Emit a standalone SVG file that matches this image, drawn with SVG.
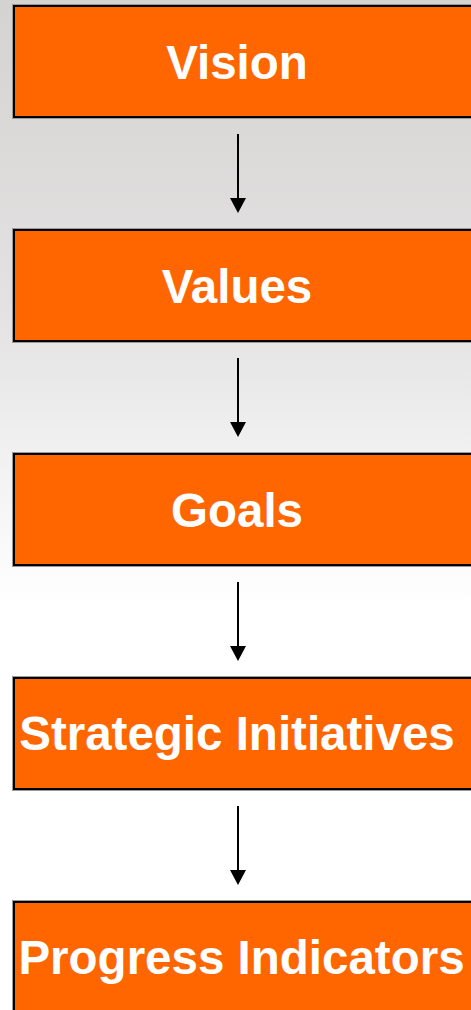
<svg xmlns="http://www.w3.org/2000/svg" width="471" height="1010" viewBox="0 0 471 1010">
<defs>
<linearGradient id="bg" x1="0" y1="0" x2="0" y2="1010" gradientUnits="userSpaceOnUse">
<stop offset="0" stop-color="#d5d2d2"/>
<stop offset="0.3" stop-color="#e3e1e1"/>
<stop offset="0.45" stop-color="#f1f1f1"/>
<stop offset="0.6" stop-color="#ffffff"/>
<stop offset="1" stop-color="#ffffff"/>
</linearGradient>
<marker id="ah" markerWidth="15" markerHeight="16" refX="7" refY="8" orient="auto" markerUnits="userSpaceOnUse" viewBox="0 0 15 16">
<path d="M0,0 L15,8 L0,16 Z" fill="#000"/>
</marker>
<style>
.box{fill:#FF6600;stroke:#000;stroke-width:2}
.edge{fill:none;stroke:#9a9a9a;stroke-width:1}
.lbl{font-family:"Liberation Sans",Arial,sans-serif;font-weight:bold;font-size:47.5px;fill:#fff;text-anchor:middle}
.arr{stroke:#000;stroke-width:2;fill:none}
</style>
</defs>
<rect x="0" y="0" width="471" height="1010" fill="url(#bg)"/>
<g id="vision">
<rect class="edge" x="12.5" y="4.5" width="470" height="114"/>
<rect class="box" x="14" y="6" width="470" height="111"/>
<text class="lbl" x="237" y="79">Vision</text>
</g>
<g id="values">
<rect class="edge" x="12.5" y="228.5" width="470" height="114"/>
<rect class="box" x="14" y="230" width="470" height="111"/>
<text class="lbl" x="237" y="303">Values</text>
</g>
<g id="goals">
<rect class="edge" x="12.5" y="452.5" width="470" height="114"/>
<rect class="box" x="14" y="454" width="470" height="111"/>
<text class="lbl" x="237" y="527">Goals</text>
</g>
<g id="strategic">
<rect class="edge" x="12.5" y="676.5" width="470" height="114"/>
<rect class="box" x="14" y="678" width="470" height="111"/>
<text class="lbl" x="237" y="750">Strategic Initiatives</text>
</g>
<g id="progress">
<rect class="edge" x="12.5" y="900.5" width="470" height="114"/>
<rect class="box" x="14" y="902" width="470" height="111"/>
<text class="lbl" x="241.5" y="974">Progress Indicators</text>
</g>
<g id="connectors">
<line class="arr" x1="238" y1="134" x2="238" y2="205" marker-end="url(#ah)"/>
<line class="arr" x1="238" y1="358" x2="238" y2="429" marker-end="url(#ah)"/>
<line class="arr" x1="238" y1="582" x2="238" y2="653" marker-end="url(#ah)"/>
<line class="arr" x1="238" y1="806" x2="238" y2="877" marker-end="url(#ah)"/>
</g>
</svg>
